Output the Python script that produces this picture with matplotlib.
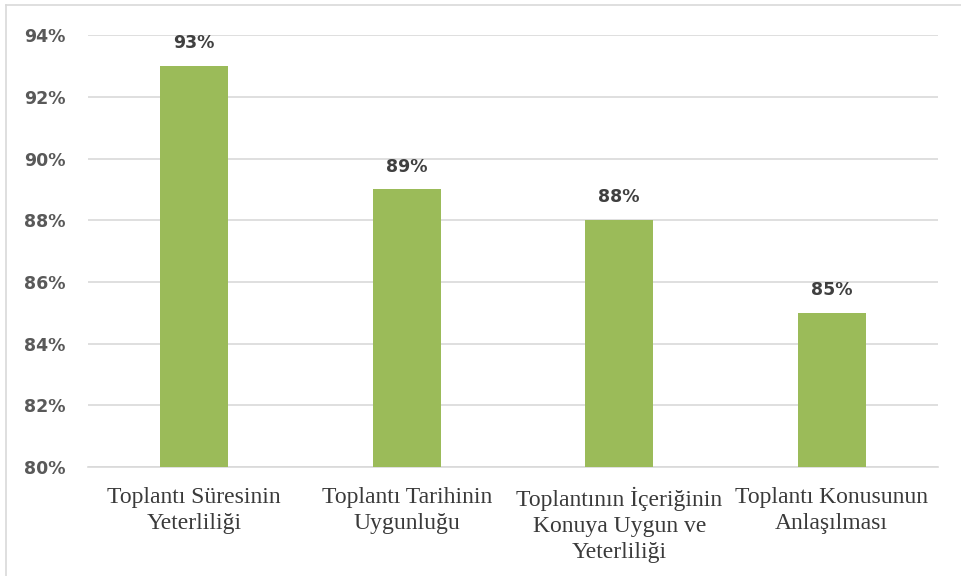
from matplotlib import pyplot as plt
from matplotlib.lines import Line2D
from matplotlib.ticker import FuncFormatter

categories = [
    "Toplantı Süresinin\nYeterliliği",
    "Toplantı Tarihinin\nUygunluğu",
    "Toplantının İçeriğinin\nKonuya Uygun ve\nYeterliliği",
    "Toplantı Konusunun\nAnlaşılması",
]
values = [93, 89, 88, 85]
y_ticks = [80, 82, 84, 86, 88, 90, 92, 94]

fig = plt.figure(figsize=(9.61, 5.76), dpi=100)
ax = fig.add_axes([0.0916, 0.189, 0.8844, 0.750])

x = range(len(categories))
bars = ax.bar(x, values, width=0.32, color='#9BBB59', zorder=3, bottom=0)

ax.set_ylim(80, 94)
ax.set_xlim(-0.5, len(categories) - 0.5)
ax.set_yticks(y_ticks)
ax.yaxis.set_major_formatter(FuncFormatter(lambda v, p: f"{v:.0f}%"))
ax.grid(axis='y', color='#D9D9D9', linewidth=1.2, zorder=0)

for b, v in zip(bars, values):
    ax.annotate(f"{v}%", (b.get_x() + b.get_width() / 2, v),
                xytext=(0, 10), textcoords='offset points',
                ha='center', va='bottom', fontsize=12.5,
                fontweight='bold', color='#404040')

ax.set_xticks(list(x))
ax.set_xticklabels(categories, fontfamily='Liberation Serif', fontsize=17,
                   color='#3A3A3A', linespacing=1.32)
ax.tick_params(axis='x', length=0, pad=14)
ax.tick_params(axis='y', length=0, pad=16, labelsize=12.5, labelcolor='#595959')
for lab in ax.get_yticklabels():
    lab.set_fontweight('bold')

for s in ['top', 'right', 'left']:
    ax.spines[s].set_visible(False)
ax.spines['bottom'].set_color('#D9D9D9')
ax.spines['bottom'].set_linewidth(1.2)

# outer chart frame (top and left edges visible)
fig.add_artist(Line2D([6 / 961, 1], [1 - 5 / 576, 1 - 5 / 576],
                      color='#D9D9D9', linewidth=1.2, transform=fig.transFigure))
fig.add_artist(Line2D([6 / 961, 6 / 961], [0, 1 - 5 / 576],
                      color='#D9D9D9', linewidth=1.2, transform=fig.transFigure))

fig.savefig('out.png', dpi=100, facecolor='white')
